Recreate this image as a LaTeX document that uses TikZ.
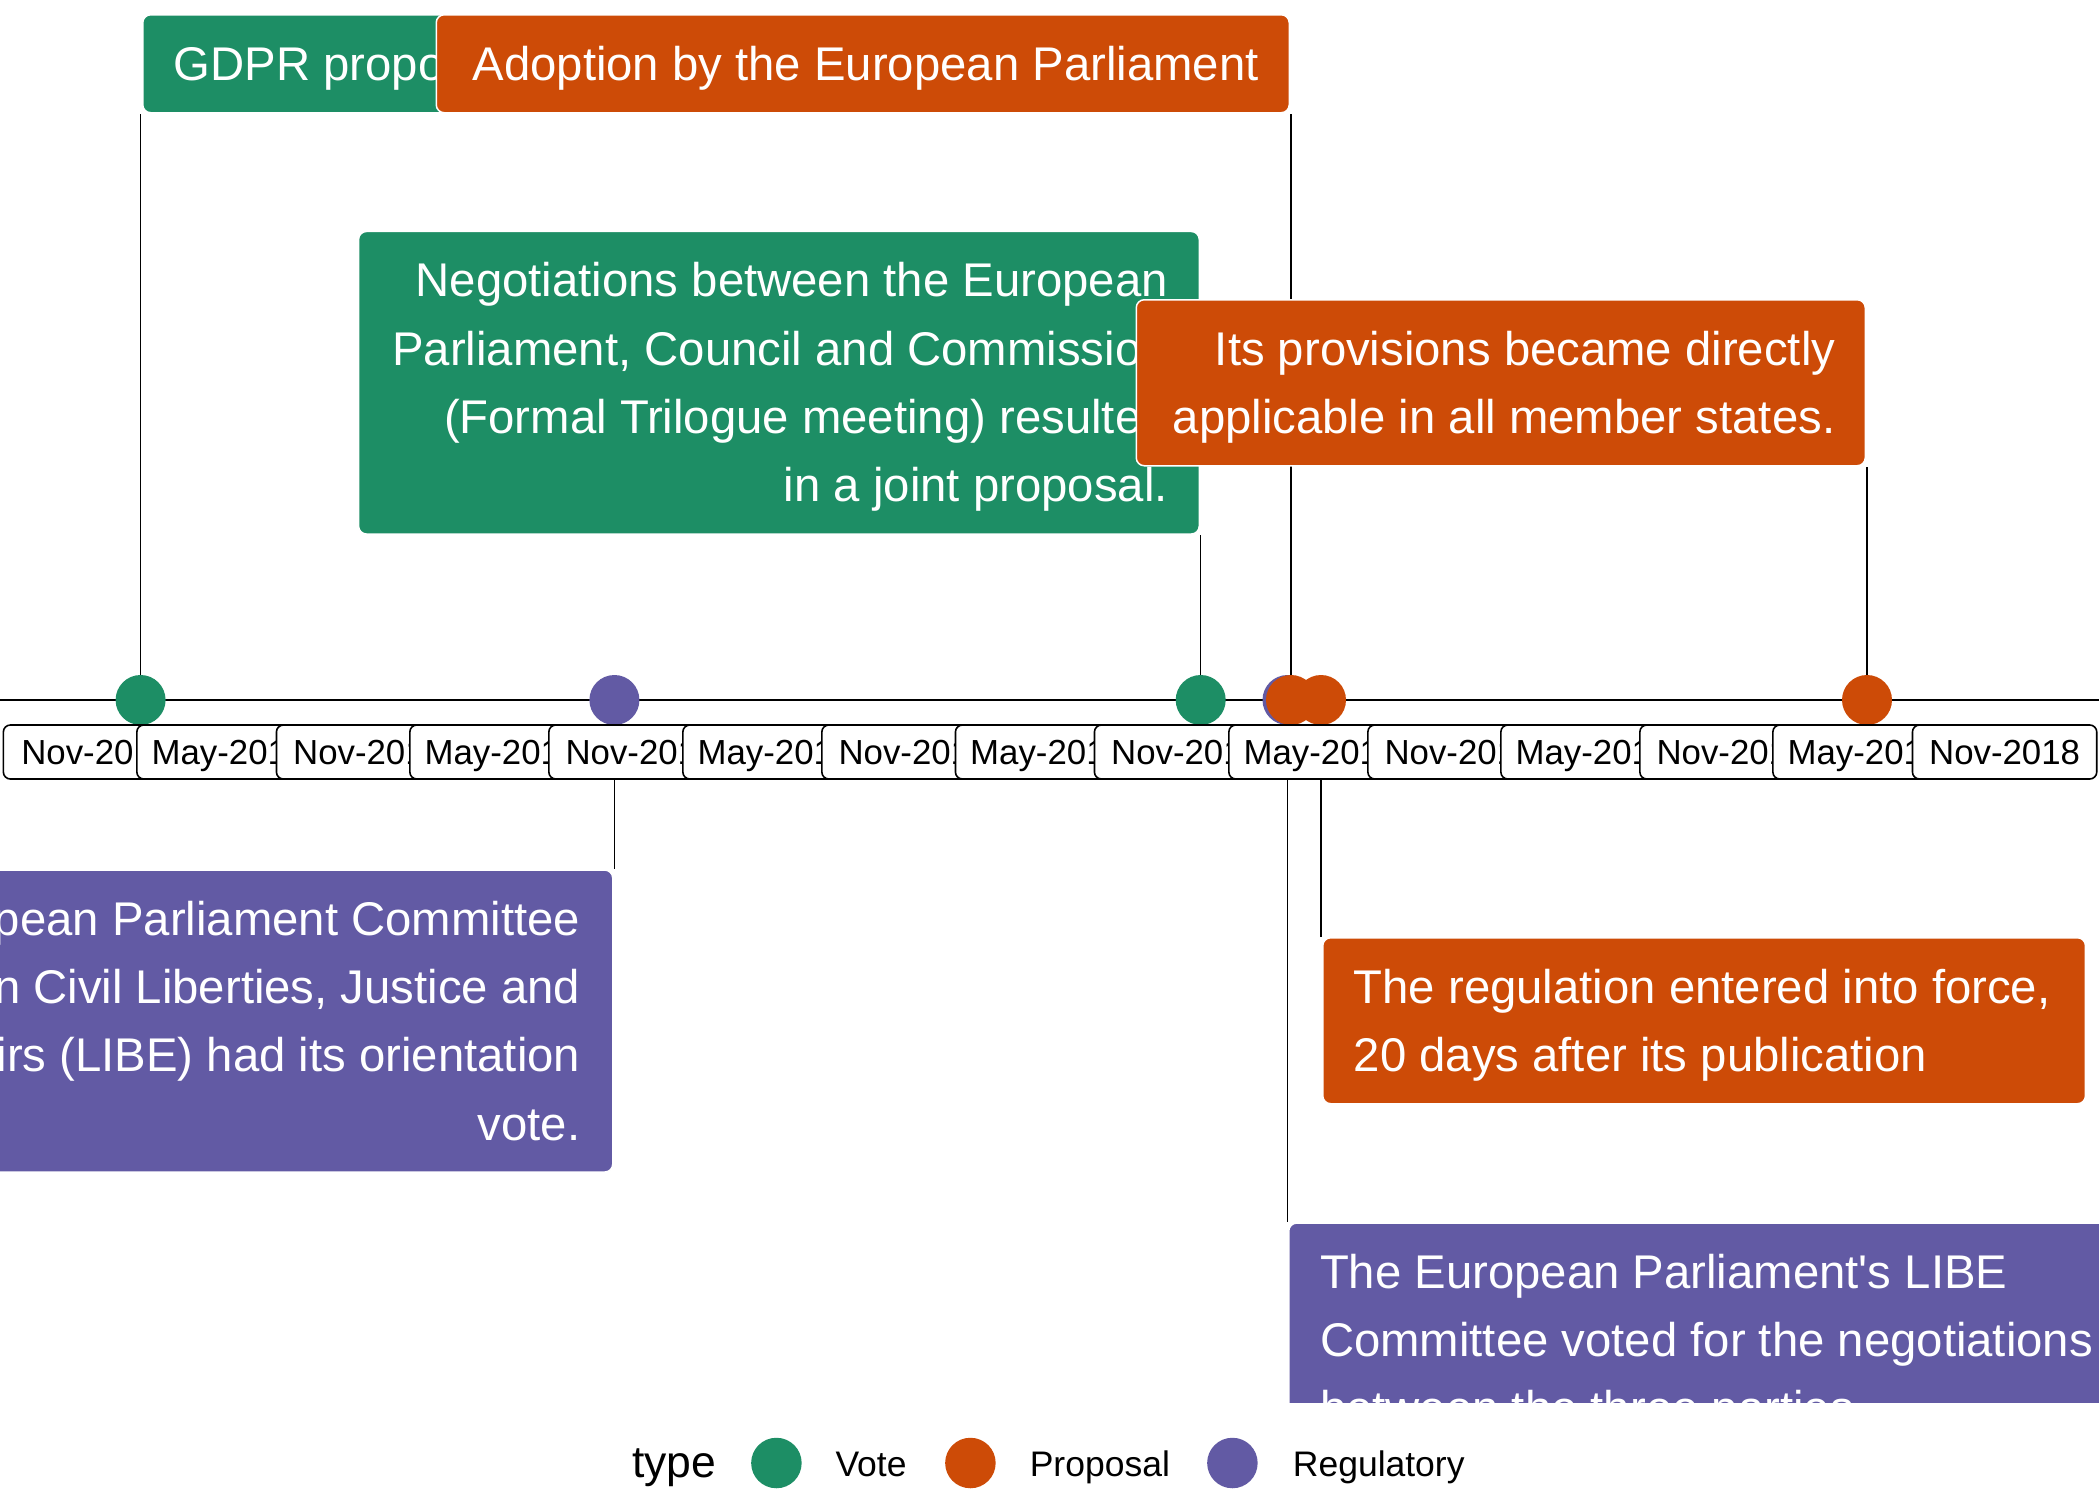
\documentclass[tikz,border=0pt]{standalone}
\usepackage{fontspec}
\setmainfont{Liberation Sans}
\definecolor{cvote}{RGB}{29,142,101}
\definecolor{cprop}{RGB}{205,75,7}
\definecolor{creg}{RGB}{98,90,164}
\pgfdeclarelayer{back}
\pgfdeclarelayer{bg}
\pgfsetlayers{back,bg,main}
\newcommand\lblfont{\fontsize{47.3}{68.2}\selectfont}
\newcommand\tickfont{\fontsize{34.8}{40}\selectfont}
\newcommand\legfont{\fontsize{35.5}{40}\selectfont}
\newcommand\titfont{\fontsize{44.5}{50}\selectfont}
\begin{document}
\begin{tikzpicture}[x=1pt,y=-1pt,
  dot/.style={circle, minimum size=50pt, inner sep=0pt, draw=none},
  tickbox/.style={rectangle, rounded corners=7pt, draw=black, line width=1.6pt, fill=white,
     minimum width=184.3pt, minimum height=54pt, inner sep=0pt, font=\tickfont,
     text height=24pt, text depth=0pt},
  evbox/.style={rectangle, rounded corners=8pt, draw=white, line width=1.5pt, inner sep=0pt},
  evtxt/.style={inner sep=0pt, text=white, font=\lblfont},
  conn/.style={draw=black, line width=1.3pt},
  legdot/.style={circle, minimum size=50.5pt, inner sep=0pt},
  legtxt/.style={anchor=base west, inner sep=0pt, font=\legfont}]
\useasboundingbox (0,0) rectangle (2099,1499);
\begin{pgfonlayer}{back}
\fill[white] (0,0) rectangle (2099,1499);
\end{pgfonlayer}

\begin{scope}
\clip (0,0) rectangle (2099,1402.7);
% event dots
\node[dot, fill=cvote] (dgdpr) at (140.6,700) {};
\node[dot, fill=creg] (dlibeA) at (614.4,700) {};
\node[dot, fill=cvote] (dnego) at (1200.7,700) {};
\node[dot, fill=creg] (dlibeB) at (1287.5,700) {};
\node[dot, fill=cprop] (dadopt) at (1291,700) {};
\node[dot, fill=cprop] (dforce) at (1321,700) {};
\node[dot, fill=cprop] (dprov) at (1867,700) {};

% tick labels
\node[tickbox] (t1) at (95.5,752) {Nov-2011};
\node[tickbox] (t2) at (229,752) {May-2012};
\node[tickbox] (t3) at (368.6,752) {Nov-2012};
\node[tickbox] (t4) at (502,752) {May-2013};
\node[tickbox] (t5) at (641,752) {Nov-2013};
\node[tickbox] (t6) at (775,752) {May-2014};
\node[tickbox] (t7) at (914,752) {Nov-2014};
\node[tickbox] (t8) at (1047.6,752) {May-2015};
\node[tickbox] (t9) at (1186.6,752) {Nov-2015};
\node[tickbox] (t10) at (1321,752) {May-2016};
\node[tickbox] (t11) at (1460,752) {Nov-2016};
\node[tickbox] (t12) at (1593,752) {May-2017};
\node[tickbox] (t13) at (1732,752) {Nov-2017};
\node[tickbox] (t14) at (1865,752) {May-2018};
\node[tickbox] (t15) at (2004.6,752) {Nov-2018};

% event boxes
\node[evbox, fill=cvote, anchor=north west, minimum width=410pt, minimum height=98pt] (bgdpr) at (142,14) {};
\node[evtxt, anchor=north west, align=left] (xgdpr) at ([xshift=31.5pt,yshift=-18.3pt]bgdpr.north west) {\strut GDPR proposed};

\node[evbox, fill=cprop, anchor=north east, minimum width=853pt, minimum height=98pt] (badopt) at (1290,14) {};
\node[evtxt, anchor=north east, align=right] (xadopt) at ([xshift=-31pt,yshift=-18.3pt]badopt.north east) {\strut Adoption by the European Parliament};

\node[evbox, fill=cvote, anchor=north east, minimum width=840.7pt, minimum height=302.6pt] (bnego) at (1200,230.7) {};
\node[evtxt, anchor=north east, align=right] (xnego) at ([xshift=-32pt,yshift=-18.3pt]bnego.north east) {\strut Negotiations between the European\\Parliament, Council and Commission\\(Formal Trilogue meeting) resulted\\in a joint proposal.};

\node[evbox, fill=cprop, anchor=north east, minimum width=729pt, minimum height=166pt] (bprov) at (1866,299) {};
\node[evtxt, anchor=north east, align=right] (xprov) at ([xshift=-30.5pt,yshift=-18.3pt]bprov.north east) {\strut Its provisions became directly\\applicable in all member states.};

\node[evbox, fill=creg, anchor=north east, minimum width=870pt, minimum height=302pt] (blibeA) at (613.5,869.3) {};
\node[evtxt, anchor=north east, align=right] (xlibeA) at ([xshift=-33pt,yshift=-18.3pt]blibeA.north east) {\strut The European Parliament Committee\\on Civil Liberties, Justice and\\Home Affairs (LIBE) had its orientation\\vote.};

\node[evbox, fill=cprop, anchor=north west, minimum width=762.7pt, minimum height=166pt] (bforce) at (1322,937) {};
\node[evtxt, anchor=north west, align=left] (xforce) at ([xshift=31.5pt,yshift=-18.3pt]bforce.north west) {\strut The regulation entered into force,\\20 days after its publication};

\node[evbox, fill=creg, anchor=north west, minimum width=834pt, minimum height=234.4pt] (blibeB) at (1288,1222.3) {};
\node[evtxt, anchor=north west, align=left] (xlibeB) at ([xshift=31.8pt,yshift=-18.3pt]blibeB.north west) {\strut The European Parliament\textquotesingle s LIBE\\Committee voted for the negotiations\\between the three parties};
\end{scope}

% timeline and connectors behind everything
\begin{pgfonlayer}{bg}
\coordinate (axL) at (0,700);
\coordinate (axR) at (2099,700);
\draw[line width=2.7pt] (axL) -- (axR);
\draw[conn] (dgdpr.center) -- (dgdpr.center |- bgdpr.south);
\draw[conn] (dadopt.center) -- (dadopt.center |- badopt.south);
\draw[conn] (dnego.center) -- (dnego.center |- bnego.south);
\draw[conn] (dprov.center) -- (dprov.center |- bprov.south);
\draw[conn] (dlibeA.center) -- (dlibeA.center |- blibeA.north);
\draw[conn] (dforce.center) -- (dforce.center |- bforce.north);
\draw[conn] (dlibeB.center) -- (dlibeB.center |- blibeB.north);
\end{pgfonlayer}

% legend
\node[anchor=base west, inner sep=0pt, font=\titfont] (legtitle) at (632,1477) {type};
\node[legdot, fill=cvote] (lvote) at (776.4,1463) {};
\node[legtxt] (lvotet) at (835.3,1476) {Vote};
\node[legdot, fill=cprop] (lprop) at (970.4,1463) {};
\node[legtxt] (lpropt) at (1029.6,1476) {Proposal};
\node[legdot, fill=creg] (lreg) at (1232.4,1463) {};
\node[legtxt] (lregt) at (1292.7,1476) {Regulatory};
\end{tikzpicture}
\end{document}
